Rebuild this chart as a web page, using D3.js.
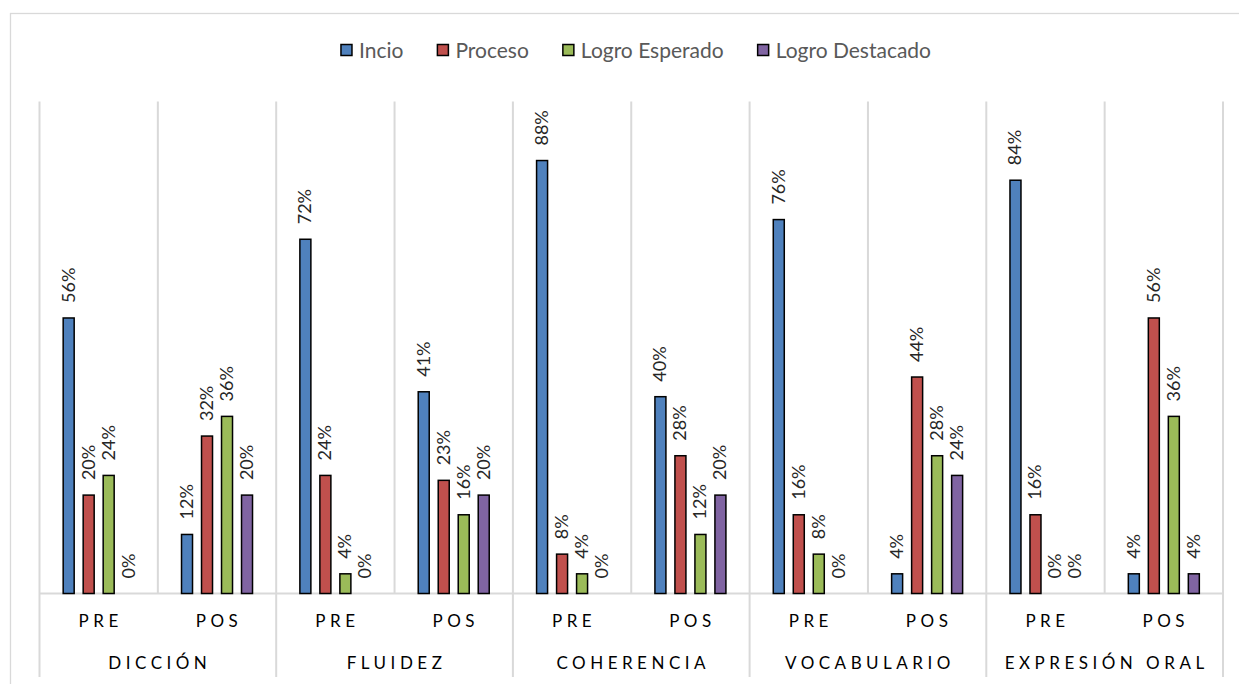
<!DOCTYPE html>
<html>
<head>
<meta charset="utf-8">
<script src="https://cdn.jsdelivr.net/npm/d3@7"></script>
<style>
  body { margin: 0; background: #fff; }
  svg { display: block; font-family: Lato, "Open Sans", sans-serif; }
</style>
</head>
<body>
<svg id="chart" width="1239" height="684"></svg>
<script>
const groups = ["DICCIÓN", "FLUIDEZ", "COHERENCIA", "VOCABULARIO", "EXPRESIÓN ORAL"];
const phases = ["PRE", "POS"];
const series = ["Incio", "Proceso", "Logro Esperado", "Logro Destacado"];
const colors = ["#4f81bd", "#c0504d", "#9bbb59", "#8064a2"];

// one row per group, PRE then POS, four levels each
const incio = [[56, 12], [72, 41], [88, 40], [76, 4], [84, 4]];
const proceso = [[20, 32], [24, 23], [8, 28], [16, 44], [16, 56]];
const esperado = [[24, 36], [4, 16], [4, 12], [8, 28], [0, 36]];
const destacado = [[0, 20], [0, 20], [0, 20], [0, 24], [0, 4]];
const seriesValues = [incio, proceso, esperado, destacado];

const rows = [];
groups.forEach((g, gi) => {
  phases.forEach((p, pi) => {
    rows.push({
      key: `${g}|${p}`,
      group: g,
      phase: p,
      values: seriesValues.map((s, si) => ({ name: series[si], value: s[gi][pi] / 100, color: colors[si] }))
    });
  });
});

const svg = d3.select("#chart");
const plotLeft = 39.5, plotRight = 1223, plotBase = 593.5, plotTop = 101.5;
const gridColor = "#d9d9d9";

// outer frame
svg.append("rect")
  .attr("x", 10.5).attr("y", 13.5)
  .attr("width", 1260).attr("height", 700)
  .attr("fill", "none").attr("stroke", gridColor).attr("stroke-width", 1.3);

const x = d3.scaleBand().domain(rows.map((d) => d.key)).range([plotLeft, plotRight]).padding(0);
const y = d3.scaleLinear().domain([0, 1]).range([plotBase, plotTop]);
const xSub = d3.scaleBand().domain(series).range([-40, 40]).paddingInner(0.4).paddingOuter(0.2);

// category separators
const gGrid = svg.append("g");
rows.forEach((d, i) => {
  const xPos = x(d.key);
  const isGroupEdge = i % 2 === 0;
  gGrid.append("line")
    .attr("x1", xPos).attr("x2", xPos)
    .attr("y1", plotTop).attr("y2", isGroupEdge ? 677 : plotBase)
    .attr("stroke", gridColor).attr("stroke-width", 2);
});
gGrid.append("line")
  .attr("x1", plotRight).attr("x2", plotRight)
  .attr("y1", plotTop).attr("y2", 677)
  .attr("stroke", gridColor).attr("stroke-width", 2);
gGrid.append("line")
  .attr("x1", plotLeft).attr("x2", plotRight)
  .attr("y1", plotBase).attr("y2", plotBase)
  .attr("stroke", gridColor).attr("stroke-width", 2);

// bars
const gBars = svg.append("g");
const cat = gBars.selectAll("g.cat")
  .data(rows)
  .join("g")
  .attr("class", "cat")
  .attr("transform", (d) => `translate(${x(d.key) + x.bandwidth() / 2},0)`);

cat.selectAll("rect")
  .data((d) => d.values.filter((v) => v.value > 0))
  .join("rect")
  .attr("x", (v) => xSub(v.name) + 0.5)
  .attr("width", xSub.bandwidth() - 1)
  .attr("y", (v) => y(v.value))
  .attr("height", (v) => plotBase - y(v.value))
  .attr("fill", (v) => v.color)
  .attr("stroke", "#000")
  .attr("stroke-width", 1.5);

cat.selectAll("text")
  .data((d) => d.values)
  .join("text")
  .attr("transform", (v) => `translate(${xSub(v.name) + xSub.bandwidth() / 2 + 6},${y(v.value) - 15}) rotate(-90)`)
  .attr("font-size", 18)
  .attr("fill", "#262626")
  .text((v) => d3.format(".0%")(v.value));

// axis labels
const gAxis = svg.append("g");
gAxis.selectAll("text.phase")
  .data(rows)
  .join("text")
  .attr("class", "phase")
  .attr("x", (d) => x(d.key) + x.bandwidth() / 2 + 2)
  .attr("y", 627)
  .attr("text-anchor", "middle")
  .attr("font-size", 17)
  .attr("letter-spacing", 4.5)
  .attr("fill", "#000")
  .text((d) => d.phase);

gAxis.selectAll("text.group")
  .data(groups)
  .join("text")
  .attr("class", "group")
  .attr("x", (d) => x(`${d}|PRE`) + x.bandwidth() + 2)
  .attr("y", 669)
  .attr("text-anchor", "middle")
  .attr("font-size", 17)
  .attr("letter-spacing", 4.5)
  .attr("fill", "#000")
  .text((d) => d);

// legend
const legend = svg.append("g");
const items = legend.selectAll("g")
  .data(series)
  .join("g");
items.append("rect")
  .attr("width", 11).attr("height", 11)
  .attr("y", 44.5)
  .attr("fill", (d, i) => colors[i])
  .attr("stroke", "#000").attr("stroke-width", 1.5);
items.append("text")
  .attr("x", 18).attr("y", 57.5)
  .attr("font-size", 21)
  .attr("fill", "#595959")
  .text((d) => d);

const gap = 34;
let cursor = 0;
const offsets = [];
items.each(function () {
  const w = d3.select(this).select("text").node().getComputedTextLength() + 18;
  offsets.push(cursor);
  cursor += w + gap;
});
const total = cursor - gap;
const start = 636 - total / 2;
items.attr("transform", (d, i) => `translate(${start + offsets[i]},0)`);
</script>
</body>
</html>
